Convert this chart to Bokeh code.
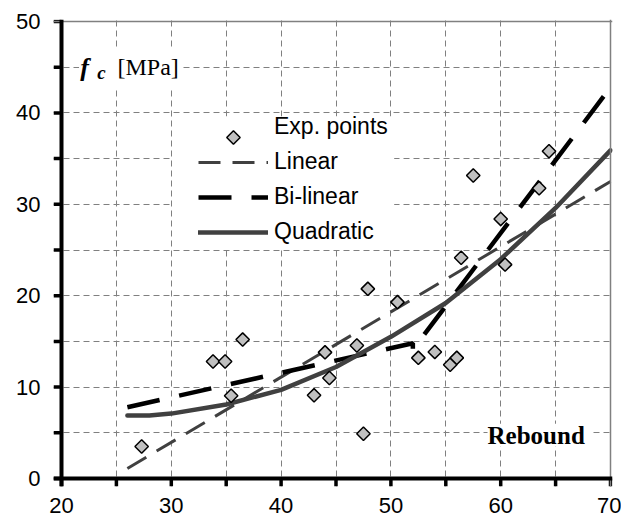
import math
from bokeh.plotting import figure
from bokeh.models import Range1d, FixedTicker, Legend, LegendItem, Label, BoxAnnotation, Span
from bokeh.embed import file_html
from bokeh.resources import INLINE

# ---- data ----
rebound = [27.3, 33.8, 34.9, 35.45, 36.5, 43.0, 44.0, 44.4, 46.9, 47.5, 47.9,
           50.6, 52.5, 54.0, 55.4, 56.0, 56.4, 57.5, 60.0, 60.4, 63.5, 64.4]
fc = [3.5, 12.8, 12.8, 9.05, 15.2, 9.1, 13.8, 11.0, 14.55, 4.9, 20.75,
      19.3, 13.2, 13.85, 12.45, 13.2, 24.15, 33.15, 28.4, 23.4, 31.75, 35.8]

linear_x = [26, 70]
linear_y = [1.1, 32.5]
bilinear_x = [26, 52, 52, 70]
bilinear_y = [7.8, 14.8, 14.1, 42.8]
quad_x = [26, 28, 30, 35, 40, 45, 50, 55, 60, 65, 70]
quad_y = [6.9, 6.9, 7.1, 8.1, 9.7, 12.2, 15.5, 19.2, 24.0, 29.6, 35.9]

x_ticks = [20, 25, 30, 35, 40, 45, 50, 55, 60, 65, 70]
y_ticks = [0, 5, 10, 15, 20, 25, 30, 35, 40, 45, 50]
x_labels = ["20", "", "30", "", "40", "", "50", "", "60", "", "70"]
y_labels = ["0", "", "10", "", "20", "", "30", "", "40", "", "50"]

legend_names = ["Exp. points", "Linear", "Bi-linear", "Quadratic"]

# ---- figure ----
# The frame is slightly larger than the 20-70 / 0-50 data box so that the
# outward tick marks are drawn inside it.
X0, X1, Y0, Y1 = 20, 70, 0, 50
PX_X = 10.98   # px per x unit
PX_Y = 9.14    # px per y unit
x_range = Range1d(X0 - 8 / PX_X, X1 + 2 / PX_X)
y_range = Range1d(Y0 - 8 / PX_Y, Y1 + 2 / PX_Y)

p = figure(frame_width=559, frame_height=467,
           x_range=x_range, y_range=y_range,
           output_backend="svg", toolbar_location=None,
           min_border_left=53, min_border_right=9,
           min_border_top=19, min_border_bottom=43)
p.background_fill_color = "white"
p.border_fill_color = "white"
p.outline_line_color = None

p.xaxis.ticker = FixedTicker(ticks=x_ticks, minor_ticks=[])
p.yaxis.ticker = FixedTicker(ticks=y_ticks, minor_ticks=[])
p.xaxis.major_label_overrides = {t: l for t, l in zip(x_ticks, x_labels)}
p.yaxis.major_label_overrides = {t: l for t, l in zip(y_ticks, y_labels)}
p.axis.axis_line_color = None
p.axis.major_tick_line_color = None
p.axis.minor_tick_line_color = None
p.axis.major_tick_out = 0
p.axis.major_tick_in = 0
p.axis.minor_tick_out = 0
p.axis.minor_tick_in = 0
p.axis.major_label_text_font = "Liberation Sans"
p.axis.major_label_text_font_size = "22px"
p.axis.major_label_text_color = "black"
p.xaxis.major_label_standoff = 11
p.yaxis.major_label_standoff = 13

p.grid.grid_line_color = "#808080"
p.grid.grid_line_width = 1
p.grid.grid_line_dash = "6 4"

# thin grey top / right border
p.add_layout(Span(location=Y1, dimension="width", line_color="#808080", line_width=1.5))
p.add_layout(Span(location=X1, dimension="height", line_color="#808080", line_width=1.5))

r_lin = p.line(linear_x, linear_y, line_color="#404040", line_width=3, line_dash="22 12")
r_bil = p.line(bilinear_x, bilinear_y, line_color="black", line_width=4.5, line_dash="33 20")
r_quad = p.line(quad_x, quad_y, line_color="#404040", line_width=4.5, line_cap="round")
r_pts = p.scatter(rebound, fc, marker="square", size=9.5, angle=math.pi / 4,
                  fill_color="#c0c0c0", line_color="black", line_width=1.5)
# invisible stand-in so the legend itself draws no unrotated square
r_key = p.scatter([], [], marker="square", size=9.5, fill_alpha=0, line_alpha=0)

# black axis lines and outward tick marks
p.add_layout(Span(location=X0, dimension="height", line_color="#000000", line_width=4))
p.add_layout(Span(location=Y0, dimension="width", line_color="#000000", line_width=4))
p.segment(x0=x_ticks, y0=[Y0] * len(x_ticks), x1=x_ticks, y1=[y_range.start] * len(x_ticks),
          line_color="#000000", line_width=3.5)
p.segment(x0=[X0] * len(y_ticks), y0=y_ticks, x1=[x_range.start] * len(y_ticks), y1=y_ticks,
          line_color="#000000", line_width=3.5)

# white boxes behind legend and text labels (hide gridlines)
p.add_layout(BoxAnnotation(left=30.15, right=50.3, bottom=25.3, top=39.6,
                           fill_color="white", fill_alpha=1, line_color=None))
p.add_layout(BoxAnnotation(left=21.6, right=30.9, bottom=42.8, top=47.2,
                           fill_color="white", fill_alpha=1, line_color=None))
p.add_layout(BoxAnnotation(left=58.8, right=68.3, bottom=3.5, top=6.0,
                           fill_color="white", fill_alpha=1, line_color=None))

legend = Legend(items=[LegendItem(label=legend_names[0], renderers=[r_key]),
                       LegendItem(label=legend_names[1], renderers=[r_lin]),
                       LegendItem(label=legend_names[2], renderers=[r_bil]),
                       LegendItem(label=legend_names[3], renderers=[r_quad])],
                location=(145, 241), padding=0, margin=0, spacing=8,
                glyph_width=70, glyph_height=24, label_height=24, label_standoff=6,
                label_text_font="Liberation Sans", label_text_font_size="23px",
                label_text_color="black",
                background_fill_alpha=0, border_line_color=None)
p.add_layout(legend)

# rotated legend key for the experimental points (drawn above the legend box)
p.scatter([35.66], [37.31], marker="square", size=9.5, angle=math.pi / 4,
          fill_color="#c0c0c0", line_color="black", line_width=1.5, level="overlay")

p.add_layout(Label(x=21.7, y=45, text="f", text_font="Liberation Serif",
                   text_font_style="bold italic", text_font_size="26px",
                   text_baseline="middle", text_color="black"))
p.add_layout(Label(x=23.25, y=44.4, text="c", text_font="Liberation Serif",
                   text_font_style="bold italic", text_font_size="19px",
                   text_baseline="middle", text_color="black"))
p.add_layout(Label(x=25.1, y=45, text="[MPa]", text_font="Liberation Serif",
                   text_font_size="24px", text_baseline="middle", text_color="black"))
p.add_layout(Label(x=58.8, y=4.75, text="Rebound", text_font="Liberation Serif",
                   text_font_style="bold", text_font_size="25px",
                   text_baseline="middle", text_color="black"))

open("out.html", "w").write(file_html(p, INLINE))
